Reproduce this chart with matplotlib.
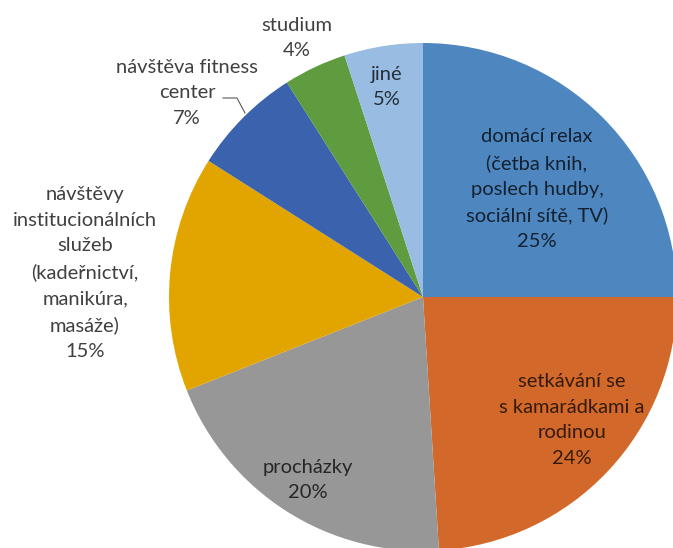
import matplotlib
matplotlib.use("Agg")
import matplotlib.pyplot as plt

# data: clockwise from 12 o'clock
labels = [
    "domácí relax\n(četba knih,\nposlech hudby,\nsociální sítě, TV)",
    "setkávání se\ns kamarádkami a\nrodinou",
    "procházky",
    "návštěvy\ninstitucionálních\nslužeb\n(kadeřnictví,\nmanikúra,\nmasáže)",
    "návštěva fitness\ncenter",
    "studium",
    "jiné",
]
values = [25, 24, 20, 15, 7, 4, 5]
colors = ["#4E86C0", "#D2692A", "#979797", "#E2A500", "#3B63AD", "#5E9C3F", "#98BCE2"]

# label centres in pixels (x from left, y from top)
label_pos = [(537, 189), (572, 420), (308, 480), (85, 273), (187, 93), (297, 38), (387, 87)]

W, H = 673, 548
fig = plt.figure(figsize=(W / 100, H / 100), dpi=100)
ax = fig.add_axes([0, 0, 1, 1])

cx, cy, r = 423, H - 297, 254
ax.pie(values, colors=colors, startangle=90, counterclock=False,
       center=(cx, cy), radius=r, frame=True,
       wedgeprops=dict(linewidth=0))
ax.set_xlim(0, W)
ax.set_ylim(0, H)
ax.axis("off")

for lab, v, (x, y) in zip(labels, values, label_pos):
    ax.text(x, H - y, f"{lab}\n{v}%", ha="center", va="center",
            fontsize=14.5, family="Lato", color="black", alpha=0.75,
            linespacing=1.62)

# leader line for the fitness label
ax.plot([223, 237, 245], [H - 98, H - 98, H - 113], color="#595959", lw=0.8)

fig.savefig("out.png", dpi=100)
